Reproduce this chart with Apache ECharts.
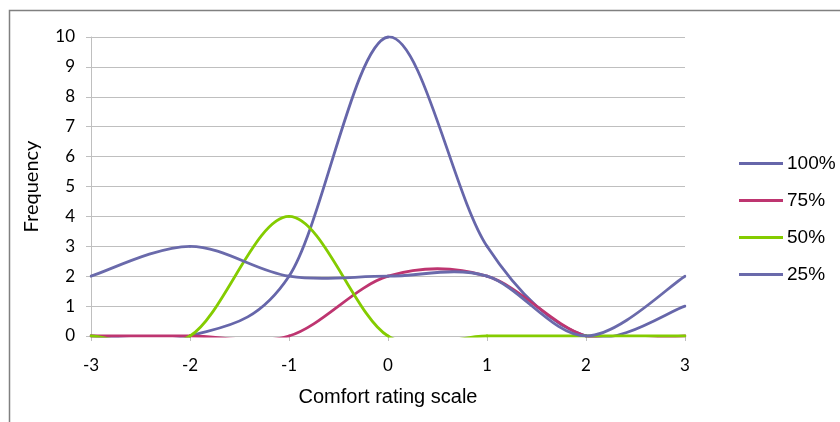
<!DOCTYPE html>
<html>
<head>
<meta charset="utf-8">
<script src="https://cdn.jsdelivr.net/npm/echarts@6/dist/echarts.min.js"></script>
<style>
  html, body { margin: 0; padding: 0; background: #fff; }
  #main { width: 840px; height: 422px; }
</style>
</head>
<body>
<div id="main"></div>
<script>
// comfort rating scale points
var xValues = [-3, -2, -1, 0, 1, 2, 3];

// frequency per series
var s100 = [0, 0, 2, 10, 3, 0, 1];
var s75 = [0, 0, 0, 2, 2, 0, 0];
var s50 = [0, 0, 4, 0, 0, 0, 0];
var s25 = [2, 3, 2, 2, 2, 0, 2];

var seriesNames = ['100%', '75%', '50%', '25%'];
var seriesColors = ['#6666aa', '#be3570', '#84cc00', '#6a6aab'];
var LINE_W = 2.8;

var myChart = echarts.init(document.getElementById('main'));

// Excel-style smoothed line: bezier segment between point i and i+1,
// control points taken from the neighbouring data points
function makeRender(vals, color) {
    return function (params, api) {
        var i = params.dataIndex;
        if (i >= vals.length - 1) return null;
        var pt = function (k) {
            k = Math.max(0, Math.min(vals.length - 1, k));
            return api.coord([xValues[k], vals[k]]);
        };
        var p0 = pt(i - 1), p1 = pt(i), p2 = pt(i + 1), p3 = pt(i + 2);
        var cs = params.coordSys;
        return {
            type: 'bezierCurve',
            shape: {
                x1: p1[0], y1: p1[1],
                x2: p2[0], y2: p2[1],
                cpx1: p1[0] + (p2[0] - p0[0]) / 6,
                cpy1: p1[1] + (p2[1] - p0[1]) / 6,
                cpx2: p2[0] - (p3[0] - p1[0]) / 6,
                cpy2: p2[1] - (p3[1] - p1[1]) / 6
            },
            style: { fill: null, stroke: color, lineWidth: LINE_W, lineCap: 'round', lineJoin: 'round' },
            clipPath: {
                type: 'rect',
                shape: {
                    x: cs.x - LINE_W / 2, y: cs.y - LINE_W / 2,
                    width: cs.width + LINE_W, height: cs.height + LINE_W
                }
            },
            silent: true
        };
    };
}

var series = [s100, s75, s50, s25].map(function (vals, i) {
    return {
        name: seriesNames[i],
        type: 'custom',
        renderItem: makeRender(vals, seriesColors[i]),
        data: xValues.map(function (x, k) { return [x, vals[k]]; }),
        encode: { x: 0, y: 1 },
        itemStyle: { color: seriesColors[i] }
    };
});

myChart.setOption({
    animation: false,
    backgroundColor: '#fff',
    graphic: [{
        type: 'rect',
        shape: { x: 9.5, y: 10.5, width: 1000, height: 1000 },
        style: { fill: 'none', stroke: '#808080', lineWidth: 1.5 },
        silent: true
    }],
    grid: { left: 91, right: 155, top: 37, bottom: 86 },
    legend: {
        orient: 'vertical',
        left: 739,
        top: 154,
        padding: 0,
        icon: 'rect',
        itemWidth: 44,
        itemHeight: 3,
        itemGap: 18,
        data: seriesNames,
        textStyle: { fontFamily: 'Liberation Sans', fontSize: 19, lineHeight: 18, color: '#000', padding: [0, 0, 0, -1] }
    },
    xAxis: {
        type: 'value',
        min: -3,
        max: 3,
        interval: 1,
        name: 'Comfort rating scale',
        nameLocation: 'middle',
        nameGap: 51,
        nameTextStyle: { fontFamily: 'Liberation Sans', fontSize: 20, color: '#000' },
        axisLine: { show: true, onZero: false, lineStyle: { color: '#bfbfbf', width: 1 } },
        axisTick: { show: true, inside: false, length: 5, lineStyle: { color: '#bfbfbf' } },
        axisLabel: { margin: 21, fontFamily: 'Lato', fontSize: 17, color: '#000' },
        splitLine: { show: false }
    },
    yAxis: {
        type: 'value',
        min: 0,
        max: 10,
        interval: 1,
        name: 'Frequency',
        nameLocation: 'middle',
        nameGap: 49,
        nameRotate: 90,
        nameTextStyle: { fontFamily: 'Lato', fontSize: 20, color: '#000' },
        axisLine: { show: true, onZero: false, lineStyle: { color: '#bfbfbf', width: 1 } },
        axisTick: { show: true, inside: false, length: 5, lineStyle: { color: '#bfbfbf' } },
        axisLabel: { margin: 16, fontFamily: 'Lato', fontSize: 17, color: '#000' },
        splitLine: { show: true, lineStyle: { color: '#bfbfbf', width: 1 } }
    },
    series: series
});
</script>
</body>
</html>
